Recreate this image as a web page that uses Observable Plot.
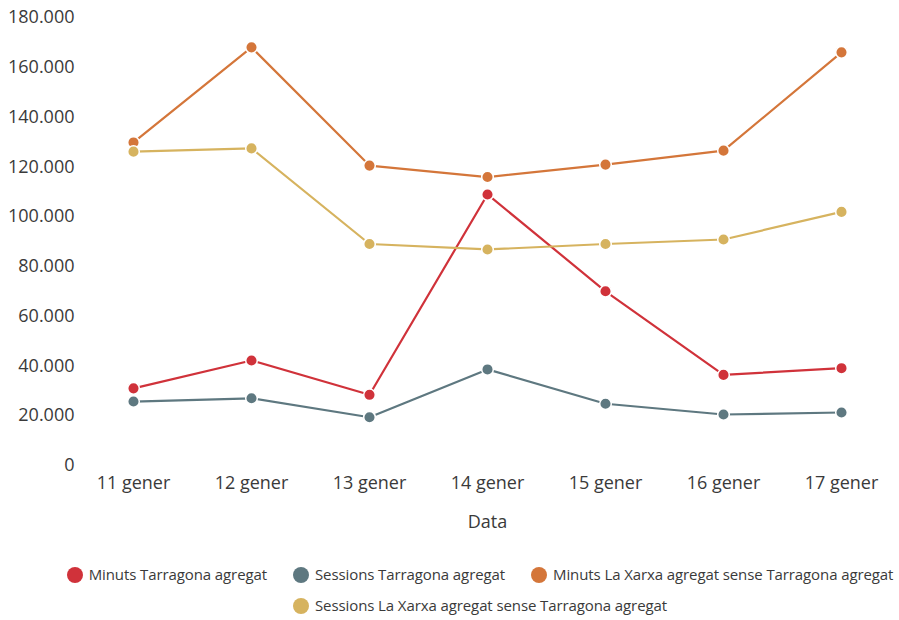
<!DOCTYPE html>
<html>
<head>
<meta charset="utf-8">
<script src="https://cdn.jsdelivr.net/npm/d3@7"></script>
<script src="https://cdn.jsdelivr.net/npm/@observablehq/plot@0.6"></script>
<style>
  body { margin: 0; background: #fff; font-family: "Open Sans", sans-serif; }
  #chart svg { display: block; }
  .legend { display: flex; flex-wrap: wrap; justify-content: center; column-gap: 26px; row-gap: 8px;
            margin-left: 55px; width: 850px; margin-top: 23px; font-size: 15px; letter-spacing: -0.1px; color: #3a3a3a; }
  .item { display: flex; align-items: center; line-height: 23px; }
  .sw { width: 16px; height: 16px; border-radius: 50%; margin-right: 6px; }
</style>
</head>
<body>
<div id="chart"></div>
<div class="legend" id="legend"></div>
<script>
const dates = ["11 gener", "12 gener", "13 gener", "14 gener", "15 gener", "16 gener", "17 gener"];
const seriesNames = [
  "Minuts Tarragona agregat",
  "Sessions Tarragona agregat",
  "Minuts La Xarxa agregat sense Tarragona agregat",
  "Sessions La Xarxa agregat sense Tarragona agregat"
];
const colors = ["#d0323a", "#5e7880", "#d4763a", "#d6b35f"];
const minutsTarragona   = [31000, 42200, 28400, 108900, 70000, 36400, 39100];
const sessionsTarragona = [25700, 27000, 19400, 38600, 24800, 20500, 21300];
const minutsXarxa       = [129800, 168000, 120500, 115900, 120900, 126500, 166000];
const sessionsXarxa     = [126100, 127400, 89000, 86800, 89000, 90800, 101900];
const yTicks = [0, 20000, 40000, 60000, 80000, 100000, 120000, 140000, 160000, 180000];

const allSeries = [minutsTarragona, sessionsTarragona, minutsXarxa, sessionsXarxa];
const data = [];
allSeries.forEach((vals, i) => vals.forEach((v, j) => data.push({serie: seriesNames[i], date: dates[j], value: v})));

const fmt = d3.formatLocale({decimal: ",", thousands: ".", grouping: [3], currency: ["", "€"]}).format(",d");

const plot = Plot.plot({
  width: 899,
  height: 540,
  marginLeft: 87,
  marginRight: 12,
  marginTop: 17,
  marginBottom: 75,
  style: {fontFamily: "Open Sans, sans-serif", fontSize: "18px", color: "#3a3a3a", background: "#fff"},
  x: {type: "point", domain: dates, padding: 0.37},
  y: {domain: [0, 180000]},
  color: {domain: seriesNames, range: colors},
  marks: [
    Plot.gridY(yTicks, {stroke: "#d9d9d9", strokeOpacity: 1, strokeWidth: 1.6, x1: 87, x2: 890}),
    Plot.axisY(yTicks, {tickSize: 0, tickPadding: 13, tickFormat: fmt, label: null, fontSize: 18}),
    Plot.axisX({tickSize: 0, tickPadding: 11, label: "Data", labelAnchor: "center", labelArrow: "none", labelOffset: 62, fontSize: 18}),
    Plot.line(data, {x: "date", y: "value", z: "serie", stroke: "serie", strokeWidth: 2.2}),
    Plot.dot(data, {x: "date", y: "value", fill: "serie", r: 5.8, stroke: "#fff", strokeWidth: 1.5})
  ]
});
document.getElementById("chart").appendChild(plot);

const legend = document.getElementById("legend");
seriesNames.forEach((n, i) => {
  const it = document.createElement("div");
  it.className = "item";
  const sw = document.createElement("span");
  sw.className = "sw";
  sw.style.background = colors[i];
  const t = document.createElement("span");
  t.textContent = n;
  it.appendChild(sw); it.appendChild(t);
  legend.appendChild(it);
});
</script>
</body>
</html>
